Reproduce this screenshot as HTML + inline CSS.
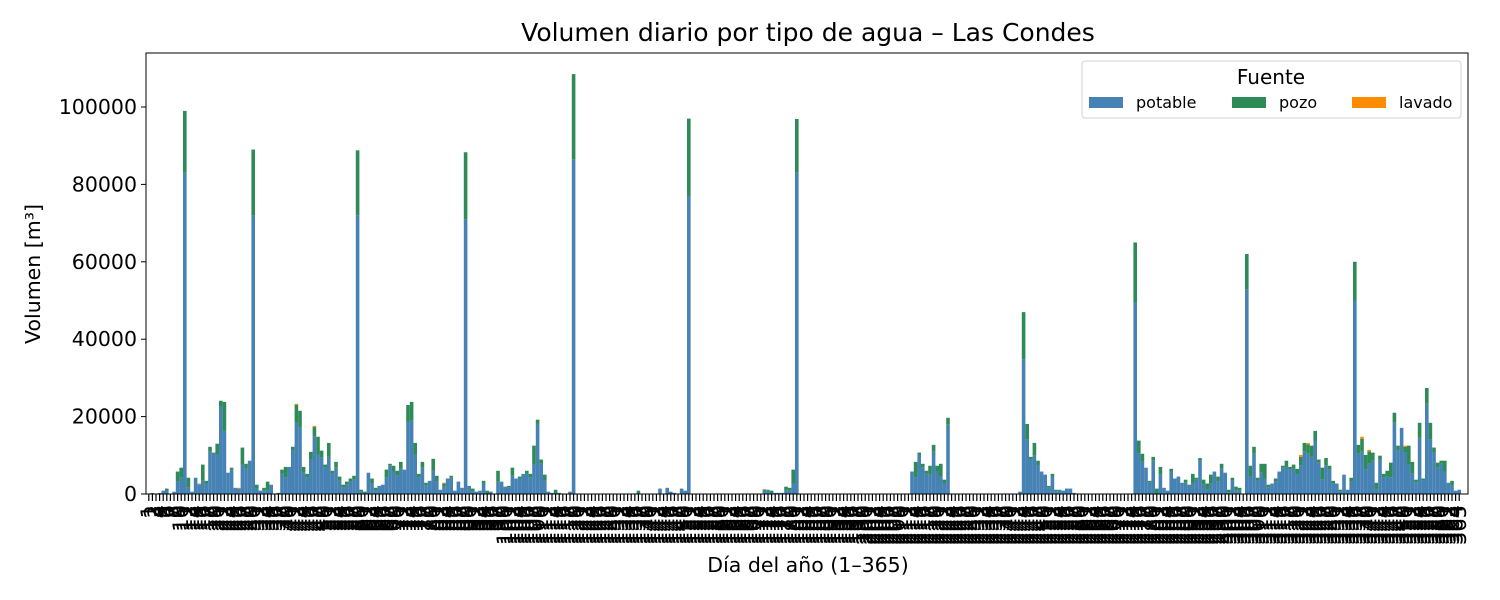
<!DOCTYPE html>
<html><head><meta charset="utf-8"><style>
body{margin:0;background:#fff;}
svg{display:block;font-family:"DejaVu Sans","Liberation Sans",sans-serif;}
</style></head><body>
<svg id="chart" width="1500" height="600" viewBox="0 0 1500 600">
<rect width="1500" height="600" fill="#fff"/>
<text x="808" y="41" font-size="25" text-anchor="middle">Volumen diario por tipo de agua – Las Condes</text>
<g id="bars"></g>
<g id="xticks"></g>
<g id="yticks"></g>
<rect x="146" y="53" width="1322" height="441" fill="none" stroke="#000" stroke-width="1"/>
<text x="808" y="572" font-size="20.5" text-anchor="middle">Día del año (1–365)</text>
<text transform="translate(40,274) rotate(-90)" font-size="20.5" text-anchor="middle">Volumen [m³]</text>
<g>
<rect x="1082" y="61" width="379" height="57" rx="3" fill="#fff" stroke="#d0d0d0"/>
<text x="1271" y="84" font-size="20" text-anchor="middle">Fuente</text>
<g><rect x="1089" y="97" width="34" height="11" fill="#4682b4"/><text x="1136" y="108" font-size="16">potable</text></g>
<g><rect x="1232" y="97" width="34" height="11" fill="#2e8b57"/><text x="1279" y="108" font-size="16">pozo</text></g>
<g><rect x="1352" y="97" width="34" height="11" fill="#ff8c00"/><text x="1399" y="108" font-size="16">lavado</text></g>
</g>
</svg>
<script>
const Z = n => Array(n).fill(0);
const totals = [0,250,0,250,860,1400,0,600,5800,6800,99000,4200,600,4200,2700,7600,3400,12200,10700,13000,24100,23800,5500,6800,1600,1600,12000,7800,8600,89000,2400,860,1600,3200,2400,0,300,6300,7000,7000,12200,23300,21500,7000,5200,10900,17600,14800,11200,7600,13200,6000,8300,4500,2400,3200,4000,4700,88800,1100,600,5500,4000,1600,2100,2400,6300,7800,7300,6000,8300,6300,23000,23800,13200,5200,8300,2900,3400,9100,4700,1100,2900,4000,4700,860,3200,1600,88300,2100,1400,600,860,3400,860,600,0,6000,3200,1900,2100,6800,4000,4500,5200,6000,5200,12500,19200,8900,5000,600,300,1100,300,0,0,600,108500,
...Z(17),860,...Z(5),1400,0,1600,600,300,0,1400,860,97000,...Z(20),1300,1100,860,300,300,300,1900,1600,6300,96900,...Z(31),
5800,8300,10700,7800,6000,7300,12700,7300,7800,3700,19700,...Z(19),600,47000,18100,9600,13200,8600,5800,5000,2100,5200,1100,1100,860,1400,1400,300,...Z(16),
65000,13800,10400,6800,3400,9600,1400,7000,1600,860,6500,4000,4500,2900,3700,2400,5200,4200,9300,3700,2700,5000,5800,4500,7800,5500,1100,4200,1900,1600,0,62000,7300,12200,4200,7800,7800,2400,2700,4000,5800,7300,8600,7000,7600,6500,10100,13200,13200,12500,16300,8900,6800,9300,7300,3400,2700,1100,5000,1100,4200,60000,12700,14800,10100,11400,10700,2900,9900,5200,6000,8100,21000,12500,17100,12500,12500,8300,3700,18400,4000,27400,18400,12000,8100,8600,8600,2900,3400,860,1100];
const potable = [0,0,0,250,860,900,0,600,3200,4200,83000,1600,600,4200,2500,3400,2700,10900,10700,10200,22600,16300,5500,6300,1600,1400,7600,6500,8600,72000,1400,860,860,860,2400,0,0,5300,4200,7000,11200,18600,17100,5500,4200,8900,14800,10200,9400,6800,9600,5200,6800,3400,1600,2400,3200,3700,72000,600,0,5500,2700,860,2100,2400,4200,7300,5800,4700,6500,6300,18600,19100,10100,4200,6800,2100,3400,6000,3200,1100,1900,4000,4200,860,3200,1600,71000,2100,600,600,860,2700,0,600,0,3200,3200,1900,1600,4700,4000,4000,5200,5200,4200,7600,18100,7800,3400,600,300,0,300,0,0,600,86500,
...Z(17),0,...Z(5),1400,0,1600,600,300,0,1400,860,77000,...Z(20),800,1100,0,300,300,300,860,860,2700,83000,...Z(31),
5800,4300,10200,6800,5200,5000,10900,5800,4500,2700,17900,...Z(19),600,34700,14000,8900,9900,7500,5800,5000,1600,4500,600,1100,860,1400,1400,300,...Z(16),
49500,10400,8300,6800,2900,8600,0,5000,1600,860,5800,4000,4500,2900,2900,2100,2700,3700,8600,2400,1100,2700,5800,3200,6500,5500,300,3400,860,860,0,52800,4500,10400,3400,5500,3900,1600,2700,3200,5800,6800,7000,6300,6500,5000,7300,10900,10400,9600,13700,8100,3700,7300,6300,2700,2700,600,5000,1100,3200,50000,10400,10900,6300,7800,8600,1100,8900,4200,4500,4300,18400,11200,17100,10700,7600,5200,2900,14500,3400,23300,14000,10700,6800,7800,5800,2900,2100,860,1100];
const lavado = [...Z(14),200,...Z(10),200,...Z(15),300,...Z(4),300,...Z(35),200,...Z(88),200,...Z(148),500,0,400,...Z(14),500,0,400,...Z(9),300,...Z(15)];
const yTicks = [0,20000,40000,60000,80000,100000];
const yTickLabels = ["0","20000","40000","60000","80000","100000"];

const NS = "http://www.w3.org/2000/svg";
const X0 = 146, XMIN = -0.78, PX = 3.6;
const Y0 = 494, YMAX = 113950, PH = 441;
const xs = v => X0 + (v - XMIN) * PX;
const ys = v => Y0 - v / YMAX * PH;
const barsG = document.getElementById('bars');
function bar(i, lo, hi, color, name){
  if (hi <= lo) return;
  const r = document.createElementNS(NS,'rect');
  r.setAttribute('x', xs(i-0.5)); r.setAttribute('width', PX);
  r.setAttribute('y', ys(hi)); r.setAttribute('height', ys(lo)-ys(hi));
  r.setAttribute('fill', color);
  
  
  barsG.appendChild(r);
}
for (let i = 0; i < 365; i++){
  const p = potable[i] || 0, l = lavado[i] || 0, t = totals[i] || 0;
  const pz = Math.max(0, t - p - l);
  bar(i, 0, p, '#4682b4', 'bar-potable');
  bar(i, p, p + pz, '#2e8b57', 'bar-pozo');
  bar(i, p + pz, p + pz + l, '#ff8c00', 'bar-lavado');
}
const xt = document.getElementById('xticks');
for (let i = 0; i < 365; i++){
  const x = xs(i);
  const ln = document.createElementNS(NS,'line');
  ln.setAttribute('x1', x); ln.setAttribute('x2', x); ln.setAttribute('y1', 494); ln.setAttribute('y2', 501);
  ln.setAttribute('stroke', '#000'); ln.setAttribute('stroke-width', '1.2');
  
  
  xt.appendChild(ln);
  const tx = document.createElementNS(NS,'text');
  tx.setAttribute('transform', `translate(${x+7},505) rotate(-90)`);
  tx.setAttribute('text-anchor', 'end'); tx.setAttribute('font-size', '21');
  tx.textContent = String(i+1);
  
  
  xt.appendChild(tx);
}
const yt = document.getElementById('yticks');
yTicks.forEach((v, k) => {
  const y = ys(v);
  const ln = document.createElementNS(NS,'line');
  ln.setAttribute('x1', 141); ln.setAttribute('x2', 146); ln.setAttribute('y1', y); ln.setAttribute('y2', y);
  ln.setAttribute('stroke', '#000');
  
  
  yt.appendChild(ln);
  const tx = document.createElementNS(NS,'text');
  tx.setAttribute('x', 137); tx.setAttribute('y', y + 7);
  tx.setAttribute('text-anchor', 'end'); tx.setAttribute('font-size', '20.5');
  tx.textContent = yTickLabels[k];
  
  
  yt.appendChild(tx);
});
</script>
</body></html>
